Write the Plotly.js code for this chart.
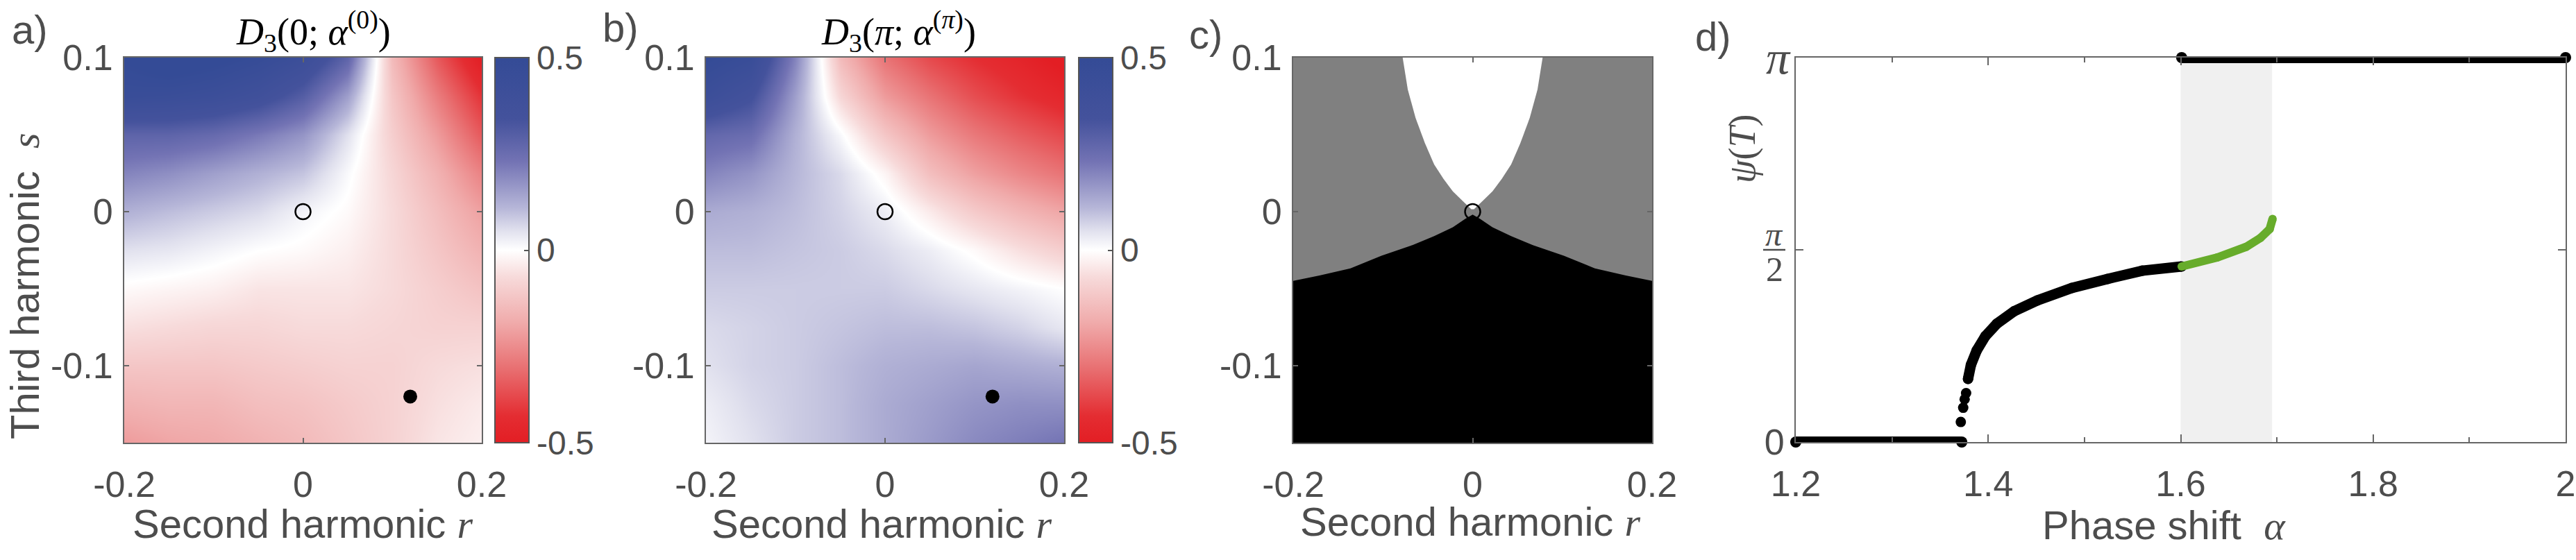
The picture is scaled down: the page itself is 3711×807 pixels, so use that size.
<!DOCTYPE html>
<html>
<head>
<meta charset="utf-8">
<script src="https://cdn.plot.ly/plotly-3.0.1.min.js"></script>
<style>
  html, body { margin: 0; padding: 0; background: #fff; }
  #fig { width: 3711px; height: 807px; }
</style>
</head>
<body>
<div id="fig"></div>
<script>
// ---- data ----

// grid for panels a and b (second harmonic r, third harmonic s)
const rGrid = [-0.2, -0.15, -0.1, -0.05, 0, 0.05, 0.1, 0.15, 0.2];
const sGrid = [-0.15, -0.125, -0.1, -0.075, -0.05, -0.025, 0, 0.025, 0.05, 0.075, 0.1];

// D3(0; alpha^(0)), rows follow sGrid
const zA = [
  [-0.22, -0.20, -0.19, -0.17, -0.15, -0.12, -0.09, -0.05, -0.03],
  [-0.17, -0.16, -0.16, -0.14, -0.13, -0.11, -0.09, -0.06, -0.04],
  [-0.12, -0.12, -0.12, -0.11, -0.10, -0.09, -0.09, -0.07, -0.06],
  [-0.06, -0.07, -0.08, -0.08, -0.07, -0.07, -0.08, -0.09, -0.09],
  [-0.01, -0.02, -0.03, -0.05, -0.05, -0.05, -0.07, -0.10, -0.13],
  [ 0.05,  0.04,  0.02,  0.00, -0.01, -0.03, -0.07, -0.12, -0.17],
  [ 0.12,  0.10,  0.08,  0.06,  0.02, -0.01, -0.07, -0.14, -0.21],
  [ 0.20,  0.18,  0.15,  0.12,  0.09,  0.01, -0.08, -0.17, -0.27],
  [ 0.28,  0.28,  0.26,  0.22,  0.17,  0.05, -0.10, -0.22, -0.35],
  [ 0.45,  0.44,  0.42,  0.38,  0.30,  0.15, -0.12, -0.28, -0.42],
  [ 0.50,  0.55,  0.52,  0.48,  0.42,  0.28, -0.15, -0.35, -0.50]
];

// D3(pi; alpha^(pi)), rows follow sGrid
const zB = [
  [0.02, 0.05, 0.08, 0.10,  0.13,  0.16,  0.19,  0.21,  0.23],
  [0.03, 0.06, 0.08, 0.10,  0.13,  0.15,  0.17,  0.18,  0.18],
  [0.05, 0.07, 0.08, 0.10,  0.12,  0.13,  0.14,  0.13,  0.12],
  [0.06, 0.07, 0.08, 0.09,  0.10,  0.10,  0.09,  0.07,  0.04],
  [0.08, 0.08, 0.08, 0.08,  0.08,  0.06,  0.04,  0.02,  0.00],
  [0.10, 0.10, 0.09, 0.08,  0.06,  0.03, -0.01, -0.06, -0.10],
  [0.13, 0.12, 0.10, 0.07,  0.03, -0.04, -0.11, -0.16, -0.20],
  [0.20, 0.17, 0.11, 0.06, -0.02, -0.14, -0.21, -0.26, -0.30],
  [0.27, 0.25, 0.12, 0.01, -0.12, -0.22, -0.29, -0.34, -0.38],
  [0.42, 0.35, 0.15, -0.08, -0.22, -0.30, -0.37, -0.42, -0.46],
  [0.50, 0.45, 0.20, -0.15, -0.30, -0.38, -0.43, -0.47, -0.52]
];

// marked parameter points
const openPtR = [0];
const openPtS = [0];
const dotR = [0.12];
const dotS = [-0.12];

// panel c region boundaries
const whiteR = [-0.078, -0.0723, -0.0636, -0.0532, -0.0429, -0.0325, -0.0221, -0.0118, -0.0015,
                 0.0015, 0.0118, 0.0221, 0.0325, 0.0429, 0.0532, 0.0636, 0.0723, 0.078];
const whiteS = [0.1, 0.0793, 0.0608, 0.0445, 0.0306, 0.0213, 0.0132, 0.0073, 0.0016,
                0.0016, 0.0073, 0.0132, 0.0213, 0.0306, 0.0445, 0.0608, 0.0793, 0.1];
const blackR = [-0.2, -0.1707, -0.1362, -0.1016, -0.0671, -0.0429, -0.0221, -0.0084, 0,
                 0.0084, 0.0221, 0.0429, 0.0671, 0.1016, 0.1362, 0.1707, 0.2, 0.2, -0.2];
const blackS = [-0.0449, -0.0414, -0.0368, -0.0286, -0.0217, -0.0159, -0.0101, -0.0047, -0.0019,
                -0.0047, -0.0101, -0.0159, -0.0217, -0.0286, -0.0368, -0.0414, -0.0449, -0.15, -0.15];

// panel d: psi(T) against phase shift alpha
const zeroAlpha = [1.2, 1.3725];
const zeroPsi = [0, 0];
const piAlpha = [1.601, 2.0];
const piPsi = [Math.PI, Math.PI];
const sparseAlpha = [1.3715, 1.374, 1.3755, 1.377, 1.379];
const sparsePsi = [0.164, 0.28, 0.35, 0.40, 0.516];
const blackAlpha = [1.379, 1.382, 1.388, 1.397, 1.409, 1.427, 1.451, 1.487, 1.524, 1.56, 1.601];
const blackPsi = [0.516, 0.63, 0.748, 0.865, 0.967, 1.069, 1.157, 1.259, 1.333, 1.4, 1.435];
const greenAlpha = [1.601, 1.638, 1.668, 1.683, 1.6925, 1.6955];
const greenPsi = [1.435, 1.508, 1.595, 1.668, 1.741, 1.823];
const bandAlpha = [1.6, 1.695];

// tick labels
const rTicks = [-0.2, 0, 0.2];
const rTickText = ['-0.2', '0', '0.2'];
const sTicks = [-0.1, 0, 0.1];
const sTickText = ['-0.1', '0', '0.1'];
const cbTicks = [-0.5, 0, 0.5];
const cbTickText = ['-0.5', '0', '0.5'];
const aTicks = [1.2, 1.4, 1.6, 1.8, 2];
const aTickText = ['1.2', '1.4', '1.6', '1.8', '2'];
const psiTicks = [0, Math.PI / 2, Math.PI];
const psiTickText = ['0', 'π/2', 'π'];

// ---- layout helpers ----
const W = 3711, H = 807;
const SANS = 'Liberation Sans, Arial, Helvetica, sans-serif';
const SERIF = 'Liberation Serif, Times New Roman, serif';
const TXT = '#4d4d4d';
const AXC = '#666666';
const fx = px => px / W;
const fy = px => 1 - px / H;

const boxA = { x0: 179, x1: 694, y0: 83, y1: 638 };
const boxB = { x0: 1017, x1: 1533, y0: 83, y1: 638 };
const boxC = { x0: 1863, x1: 2380, y0: 83, y1: 638 };
const boxD = { x0: 2587, x1: 3696, y0: 83, y1: 637 };

function axis(box, dir, extra) {
  const base = {
    showgrid: false, zeroline: false, showline: true,
    linecolor: AXC, linewidth: 2, mirror: 'ticks',
    ticks: 'inside', ticklen: 7, tickwidth: 2, tickcolor: AXC,
    tickfont: { family: SANS, size: 52, color: TXT },
    fixedrange: true
  };
  if (dir === 'x') {
    base.domain = [fx(box.x0), fx(box.x1)];
    base.ticklabelstandoff = 14;
  } else {
    base.domain = [fy(box.y1), fy(box.y0)];
    base.ticklabelstandoff = 4;
  }
  return Object.assign(base, extra);
}

const colorscale = [
  [0, 'rgb(227,30,36)'],
  [0.07, 'rgb(228,45,50)'],
  [0.19, 'rgb(232,110,112)'],
  [0.31, 'rgb(240,170,170)'],
  [0.43, 'rgb(247,218,218)'],
  [0.5, 'rgb(255,255,255)'],
  [0.55, 'rgb(225,225,238)'],
  [0.61, 'rgb(182,182,216)'],
  [0.73, 'rgb(115,115,180)'],
  [0.84, 'rgb(68,82,156)'],
  [1, 'rgb(52,75,150)']
];

function colorbar(xLeft, box) {
  return {
    x: fx(xLeft), xanchor: 'left', xref: 'paper',
    y: fy(box.y1), yanchor: 'bottom', yref: 'paper',
    len: (box.y1 - box.y0) / H, lenmode: 'fraction',
    thickness: 49, thicknessmode: 'pixels',
    outlinewidth: 2, outlinecolor: '#555',
    xpad: 0, ypad: 0,
    tickvals: cbTicks, ticktext: cbTickText,
    ticks: 'inside', ticklen: 8, tickwidth: 2, tickcolor: '#555',
    tickfont: { family: SANS, size: 48, color: TXT }
  };
}

function heat(z, xa, ya, cbX, box) {
  return {
    type: 'heatmap', x: rGrid, y: sGrid, z: z,
    zmin: -0.5, zmax: 0.5, zsmooth: 'best',
    colorscale: colorscale, xaxis: xa, yaxis: ya,
    colorbar: colorbar(cbX, box), hoverinfo: 'skip'
  };
}

function marks(xa, ya) {
  return [
    { type: 'scatter', mode: 'markers', x: openPtR, y: openPtS, xaxis: xa, yaxis: ya,
      marker: { symbol: 'circle-open', size: 22, color: '#000', line: { width: 2.5, color: '#000' } } },
    { type: 'scatter', mode: 'markers', x: dotR, y: dotS, xaxis: xa, yaxis: ya,
      marker: { size: 20, color: '#000' } }
  ];
}

const traces = [
  heat(zA, 'x', 'y', 713, boxA),
  ...marks('x', 'y'),
  heat(zB, 'x2', 'y2', 1554, boxB),
  ...marks('x2', 'y2'),
  // panel c regions
  { type: 'scatter', mode: 'none', x: whiteR, y: whiteS, xaxis: 'x3', yaxis: 'y3',
    fill: 'toself', fillcolor: '#ffffff' },
  { type: 'scatter', mode: 'none', x: blackR, y: blackS, xaxis: 'x3', yaxis: 'y3',
    fill: 'toself', fillcolor: '#000000' },
  { type: 'scatter', mode: 'markers', x: openPtR, y: openPtS, xaxis: 'x3', yaxis: 'y3',
    marker: { symbol: 'circle-open', size: 22, color: '#000', line: { width: 2.5, color: '#000' } } },
  // panel d
  { type: 'scatter', mode: 'lines+markers', x: zeroAlpha, y: zeroPsi, xaxis: 'x4', yaxis: 'y4',
    line: { color: '#000', width: 16 }, marker: { size: 16, color: '#000' }, cliponaxis: false },
  { type: 'scatter', mode: 'lines+markers', x: piAlpha, y: piPsi, xaxis: 'x4', yaxis: 'y4',
    line: { color: '#000', width: 16 }, marker: { size: 16, color: '#000' }, cliponaxis: false },
  { type: 'scatter', mode: 'markers', x: sparseAlpha, y: sparsePsi, xaxis: 'x4', yaxis: 'y4',
    marker: { size: 15, color: '#000' }, cliponaxis: false },
  { type: 'scatter', mode: 'lines+markers', x: blackAlpha, y: blackPsi, xaxis: 'x4', yaxis: 'y4',
    line: { color: '#000', width: 15 }, marker: { size: 15, color: '#000' }, cliponaxis: false },
  { type: 'scatter', mode: 'lines+markers', x: greenAlpha, y: greenPsi, xaxis: 'x4', yaxis: 'y4',
    line: { color: '#67ac2b', width: 12 }, marker: { size: 12, color: '#67ac2b' }, cliponaxis: false }
];

const rAxis = { range: [-0.2, 0.2], tickmode: 'array', tickvals: rTicks, ticktext: rTickText };
const sAxis = { range: [-0.15, 0.1], tickmode: 'array', tickvals: sTicks, ticktext: sTickText };

const serifR = `<span style="font-family:${SERIF}"><i>r</i></span>`;
const serifS = `<span style="font-family:${SERIF}"><i>s</i></span>`;

function note(text, xpx, ypx, size, extra) {
  return Object.assign({
    text: text, xref: 'paper', yref: 'paper', x: fx(xpx), y: fy(ypx),
    xanchor: 'center', yanchor: 'middle', showarrow: false,
    font: { family: SANS, size: size, color: TXT }
  }, extra);
}

const annotations = [
  note('a)', 15, 43, 58, { xanchor: 'left' }),
  note('b)', 866, 40, 58, { xanchor: 'left' }),
  note('c)', 1711, 49, 58, { xanchor: 'left' }),
  note('d)', 2440, 52, 58, { xanchor: 'left' }),
  note('<i>D</i><sub>3</sub>(0; <i>α</i><sup>(0)</sup>)', 451, 45, 54,
       { font: { family: SERIF, size: 54, color: '#000' } }),
  note('<i>D</i><sub>3</sub>(<i>π</i>; <i>α</i><sup>(<i>π</i>)</sup>)', 1294, 45, 54,
       { font: { family: SERIF, size: 54, color: '#000' } }),
  note('Third harmonic  ' + serifS, 36, 412, 58, { textangle: -90 }),
  note('Second harmonic ' + serifR, 436, 755, 58),
  note('Second harmonic ' + serifR, 1270, 755, 58),
  note('Second harmonic ' + serifR, 2118, 752, 58),
  note('Phase shift  <span style="font-family:' + SERIF + '"><i>α</i></span>', 3117, 757, 58),
  note('<i>ψ</i>(<i>T</i>)', 2510, 214, 54,
       { textangle: -90, font: { family: SERIF, size: 54, color: TXT } }),
  // psi tick labels pi/2 and pi drawn as serif math
  { text: '<i>' + psiTickText[2] + '</i>', xref: 'paper', yref: 'y4', x: fx(2582), y: psiTicks[2],
    xanchor: 'right', yanchor: 'middle', showarrow: false,
    font: { family: SERIF, size: 68, color: TXT } },
  { text: '<i>' + psiTickText[1].split('/')[0] + '</i>', xref: 'paper', yref: 'y4', x: fx(2556), y: psiTicks[1],
    xanchor: 'center', yanchor: 'bottom', yshift: -6, showarrow: false,
    font: { family: SERIF, size: 48, color: TXT } },
  { text: psiTickText[1].split('/')[1], xref: 'paper', yref: 'y4', x: fx(2556), y: psiTicks[1],
    xanchor: 'center', yanchor: 'top', yshift: 2, showarrow: false,
    font: { family: SERIF, size: 50, color: TXT } }
];

const shapes = [
  { type: 'rect', xref: 'x3 domain', yref: 'y3 domain', x0: 0, x1: 1, y0: 0, y1: 1,
    fillcolor: '#808080', line: { width: 0 }, layer: 'below' },
  { type: 'rect', xref: 'x4', yref: 'y4 domain', x0: bandAlpha[0], x1: bandAlpha[1], y0: 0, y1: 1,
    fillcolor: '#f0f0f0', line: { width: 0 }, layer: 'below' },
  // fraction bar of pi/2
  { type: 'line', xref: 'paper', yref: 'y4', x0: fx(2540), x1: fx(2572), y0: psiTicks[1], y1: psiTicks[1],
    line: { color: TXT, width: 2.5 } }
];

const layout = {
  width: W, height: H,
  margin: { l: 0, r: 0, t: 0, b: 0, pad: 0 },
  paper_bgcolor: '#fff', plot_bgcolor: 'rgba(0,0,0,0)',
  showlegend: false, hovermode: false,
  xaxis: axis(boxA, 'x', Object.assign({ anchor: 'y' }, rAxis)),
  yaxis: axis(boxA, 'y', Object.assign({ anchor: 'x' }, sAxis)),
  xaxis2: axis(boxB, 'x', Object.assign({ anchor: 'y2' }, rAxis)),
  yaxis2: axis(boxB, 'y', Object.assign({ anchor: 'x2' }, sAxis)),
  xaxis3: axis(boxC, 'x', Object.assign({ anchor: 'y3' }, rAxis)),
  yaxis3: axis(boxC, 'y', Object.assign({ anchor: 'x3' }, sAxis)),
  xaxis4: axis(boxD, 'x', {
    anchor: 'y4', range: [1.2, 2], tickmode: 'array', tickvals: aTicks, ticktext: aTickText,
    ticklen: 11,
    minor: { dtick: 0.1, tick0: 1.2, ticks: 'inside', ticklen: 7, tickwidth: 2, tickcolor: AXC }
  }),
  yaxis4: axis(boxD, 'y', {
    anchor: 'x4', range: [0, Math.PI], tickmode: 'array', tickvals: psiTicks,
    ticktext: [psiTickText[0], '', ''], ticklen: 11
  }),
  annotations: annotations,
  shapes: shapes
};

Plotly.newPlot('fig', traces, layout, { staticPlot: true, displayModeBar: false });
</script>
</body>
</html>
